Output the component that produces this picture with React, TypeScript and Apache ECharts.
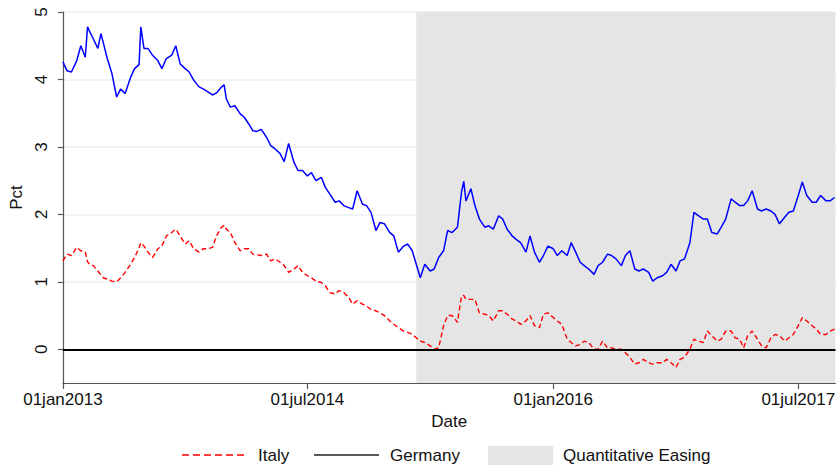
import React, { useEffect, useRef } from "react";
import * as echarts from "echarts";

// Observation dates (roughly every ten days, plus a few local spikes)
const dates = [
  "2013-01-01","2013-01-10","2013-01-20","2013-02-01","2013-02-10","2013-02-20","2013-02-25","2013-03-01","2013-03-10","2013-03-20","2013-03-27",
  "2013-04-01","2013-04-10","2013-04-20","2013-05-01","2013-05-10","2013-05-20","2013-06-01","2013-06-10","2013-06-20","2013-06-24",
  "2013-07-01","2013-07-10","2013-07-20","2013-08-01","2013-08-10","2013-08-20","2013-09-01","2013-09-10","2013-09-20",
  "2013-10-01","2013-10-10","2013-10-20","2013-11-01","2013-11-10","2013-11-20","2013-12-01","2013-12-10","2013-12-20","2013-12-27",
  "2014-01-01","2014-01-10","2014-01-20","2014-02-01","2014-02-10","2014-02-20","2014-03-01","2014-03-10","2014-03-20",
  "2014-04-01","2014-04-10","2014-04-20","2014-05-01","2014-05-10","2014-05-20","2014-06-01","2014-06-10","2014-06-20",
  "2014-07-01","2014-07-10","2014-07-20","2014-08-01","2014-08-10","2014-08-20","2014-09-01","2014-09-10","2014-09-20",
  "2014-10-01","2014-10-10","2014-10-20","2014-11-01","2014-11-10","2014-11-20","2014-12-01","2014-12-10","2014-12-20",
  "2015-01-01","2015-01-10","2015-01-20","2015-02-01","2015-02-10","2015-02-20","2015-03-01","2015-03-10","2015-03-20",
  "2015-04-01","2015-04-10","2015-04-20","2015-05-01","2015-05-10","2015-05-20","2015-06-01","2015-06-10","2015-06-15","2015-06-20",
  "2015-07-01","2015-07-10","2015-07-20","2015-08-01","2015-08-10","2015-08-20","2015-09-01","2015-09-10","2015-09-20",
  "2015-10-01","2015-10-10","2015-10-20","2015-11-01","2015-11-10","2015-11-20","2015-12-01","2015-12-10","2015-12-20",
  "2016-01-01","2016-01-10","2016-01-20","2016-02-01","2016-02-10","2016-02-20","2016-03-01","2016-03-10","2016-03-20",
  "2016-04-01","2016-04-10","2016-04-20","2016-05-01","2016-05-10","2016-05-20","2016-06-01","2016-06-10","2016-06-20",
  "2016-07-01","2016-07-10","2016-07-20","2016-08-01","2016-08-10","2016-08-20","2016-09-01","2016-09-10","2016-09-20",
  "2016-10-01","2016-10-10","2016-10-20","2016-11-01","2016-11-10","2016-11-20","2016-12-01","2016-12-10","2016-12-20",
  "2017-01-01","2017-01-10","2017-01-20","2017-02-01","2017-02-10","2017-02-20","2017-03-01","2017-03-10","2017-03-20",
  "2017-04-01","2017-04-10","2017-04-20","2017-05-01","2017-05-10","2017-05-20","2017-06-01","2017-06-10","2017-06-20",
  "2017-07-01","2017-07-10","2017-07-20","2017-08-01","2017-08-10","2017-08-20","2017-09-01","2017-09-10","2017-09-20",
];

// Italy (red, dashed), Pct
const italy = [
  1.31,1.41,1.39,1.51,1.46,1.44,1.30,1.26,1.24,1.16,1.10,
  1.06,1.04,1.01,1.00,1.06,1.14,1.26,1.36,1.50,1.58,
  1.53,1.44,1.36,1.49,1.53,1.68,1.73,1.78,1.68,
  1.56,1.61,1.49,1.44,1.49,1.49,1.51,1.68,1.80,1.84,
  1.78,1.73,1.58,1.46,1.49,1.49,1.41,1.40,1.39,
  1.41,1.31,1.34,1.29,1.24,1.14,1.19,1.24,1.14,
  1.09,1.06,1.01,0.99,0.94,0.84,0.82,0.87,0.84,
  0.77,0.67,0.72,0.67,0.64,0.59,0.57,0.54,0.50,
  0.42,0.37,0.32,0.27,0.25,0.22,0.17,0.12,0.10,
  0.05,0.00,0.02,0.35,0.50,0.50,0.40,0.79,0.80,0.74,
  0.74,0.74,0.54,0.52,0.50,0.42,0.57,0.57,0.52,
  0.45,0.42,0.37,0.42,0.50,0.35,0.32,0.52,0.54,
  0.47,0.42,0.37,0.15,0.10,0.05,0.07,0.12,0.10,
  0.00,0.00,0.12,0.02,0.02,0.00,0.00,-0.05,-0.12,
  -0.22,-0.20,-0.15,-0.20,-0.22,-0.20,-0.20,-0.15,-0.20,
  -0.27,-0.15,-0.12,0.00,0.15,0.12,0.10,0.27,0.20,
  0.12,0.15,0.27,0.27,0.17,0.15,0.02,0.20,0.27,
  0.15,0.05,0.02,0.17,0.22,0.20,0.12,0.17,0.22,
  0.35,0.47,0.42,0.35,0.30,0.22,0.22,0.27,0.30,
];

// Germany (blue), Pct
const germany = [
  4.26,4.13,4.11,4.28,4.50,4.33,4.78,4.72,4.60,4.46,4.68,
  4.55,4.31,4.10,3.74,3.86,3.79,4.03,4.16,4.22,4.78,
  4.46,4.46,4.36,4.28,4.16,4.31,4.36,4.50,4.23,
  4.16,4.11,3.99,3.89,3.86,3.82,3.77,3.80,3.88,3.92,
  3.71,3.59,3.61,3.49,3.44,3.34,3.24,3.23,3.26,
  3.14,3.02,2.97,2.90,2.78,3.05,2.77,2.65,2.65,
  2.57,2.62,2.50,2.55,2.40,2.30,2.18,2.20,2.13,
  2.10,2.08,2.35,2.15,2.13,2.03,1.76,1.88,1.86,
  1.73,1.68,1.44,1.53,1.56,1.46,1.26,1.06,1.26,
  1.16,1.19,1.36,1.46,1.76,1.73,1.81,2.33,2.49,2.20,
  2.38,2.13,1.93,1.81,1.83,1.78,1.98,1.93,1.78,
  1.68,1.63,1.58,1.44,1.68,1.44,1.29,1.39,1.53,
  1.49,1.39,1.46,1.39,1.58,1.44,1.29,1.24,1.19,
  1.11,1.24,1.29,1.41,1.39,1.34,1.24,1.39,1.46,
  1.19,1.16,1.19,1.14,1.01,1.06,1.09,1.14,1.26,
  1.16,1.31,1.34,1.58,2.03,1.98,1.93,1.93,1.73,
  1.71,1.81,1.93,2.23,2.18,2.13,2.13,2.20,2.35,
  2.08,2.05,2.08,2.05,2.00,1.86,1.96,2.03,2.05,
  2.28,2.48,2.28,2.18,2.18,2.28,2.20,2.20,2.25,
];

// Axis setup values
const xRange = ["2013-01-01", "2017-09-22"];
const xTickDates = ["2013-01-01", "2014-07-01", "2016-01-01", "2017-07-01"];
const xTickLabels = ["01jan2013", "01jul2014", "01jan2016", "01jul2017"];
const yTicks = [0, 1, 2, 3, 4, 5];
const yRange = [-0.5, 5];
const qePeriod = ["2015-03-01", "2017-09-22"];

const legendLabels = ["Italy", "Germany", "Quantitative Easing"];

const FONT = "'Liberation Sans', Arial, Helvetica, sans-serif";
const TEXT = "#111111";
const AXIS = "#555555";

function parseDay(s: string): number {
  const [y, m, d] = s.split("-").map(Number);
  return Date.UTC(y, m - 1, d);
}

export default function App() {
  const ref = useRef<HTMLDivElement>(null);

  useEffect(() => {
    if (!ref.current) return;
    const chart = echarts.init(ref.current, null, { renderer: "svg" });
    const xTickValues = xTickDates.map(parseDay);
    const italyData = dates.map((d, i) => [parseDay(d), italy[i]]);
    const germanyData = dates.map((d, i) => [parseDay(d), germany[i]]);

    const legendY = 455;
    const option: any = {
      animation: false,
      backgroundColor: "#ffffff",
      grid: { left: 60, right: 0, top: 12, bottom: 83, containLabel: false },
      xAxis: {
        type: "value",
        min: parseDay(xRange[0]),
        max: parseDay(xRange[1]),
        name: "Date",
        nameLocation: "middle",
        nameGap: 25,
        nameTextStyle: { fontFamily: FONT, fontSize: 17, color: TEXT },
        axisLine: { show: true, onZero: false, lineStyle: { color: AXIS, width: 1.2 } },
        axisTick: { show: true, customValues: xTickValues, length: 6, lineStyle: { color: AXIS, width: 1.2 } },
        axisLabel: {
          customValues: xTickValues,
          fontFamily: FONT,
          fontSize: 17,
          color: TEXT,
          margin: 8,
          hideOverlap: false,
          formatter: (v: number) => {
            let best = 0;
            for (let i = 1; i < xTickValues.length; i++) {
              if (Math.abs(xTickValues[i] - v) < Math.abs(xTickValues[best] - v)) best = i;
            }
            return xTickLabels[best];
          },
        },
        splitLine: { show: false },
      },
      yAxis: {
        type: "value",
        min: yRange[0],
        max: yRange[1],
        name: "Pct",
        nameLocation: "middle",
        nameGap: 37,
        nameTextStyle: { fontFamily: FONT, fontSize: 17, color: TEXT },
        axisLine: { show: true, lineStyle: { color: AXIS, width: 1.2 } },
        axisTick: { show: true, customValues: yTicks, length: 5, lineStyle: { color: AXIS, width: 1.2 } },
        axisLabel: {
          customValues: yTicks,
          rotate: 90,
          fontFamily: FONT,
          fontSize: 17,
          color: TEXT,
          margin: 13,
          formatter: (v: number) => String(v),
        },
        splitLine: { show: true, lineStyle: { color: "#eaf2f3", width: 1.5 } },
      },
      series: [
        {
          name: legendLabels[0],
          type: "line",
          data: italyData,
          symbol: "none",
          showSymbol: false,
          z: 3,
          lineStyle: { color: "#ff0000", width: 1.4, type: [5, 3] },
          markArea: {
            silent: true,
            itemStyle: { color: "#e5e5e5", opacity: 1 },
            data: [[{ xAxis: parseDay(qePeriod[0]) }, { xAxis: parseDay(qePeriod[1]) }]],
          },
        },
        {
          name: legendLabels[1],
          type: "line",
          data: germanyData,
          symbol: "none",
          showSymbol: false,
          z: 4,
          lineStyle: { color: "#0000ff", width: 1.5 },
          markLine: {
            silent: true,
            symbol: ["none", "none"],
            label: { show: false },
            lineStyle: { color: "#000000", width: 2, type: "solid" },
            data: [{ yAxis: 0 }],
          },
        },
      ],
      graphic: [
        {
          type: "line",
          shape: { x1: 182, y1: legendY, x2: 248, y2: legendY },
          style: { stroke: "#ff0000", lineWidth: 1.5, lineDash: [7, 4] },
        },
        {
          type: "text",
          x: 258,
          y: legendY,
          style: { text: legendLabels[0], font: `17px ${FONT}`, fill: TEXT, verticalAlign: "middle" },
        },
        {
          type: "line",
          shape: { x1: 314, y1: legendY, x2: 379, y2: legendY },
          style: { stroke: "#222222", lineWidth: 1.3 },
        },
        {
          type: "text",
          x: 390,
          y: legendY,
          style: { text: legendLabels[1], font: `17px ${FONT}`, fill: TEXT, verticalAlign: "middle" },
        },
        {
          type: "rect",
          shape: { x: 488, y: 446, width: 65, height: 19 },
          style: { fill: "#e5e5e5" },
        },
        {
          type: "text",
          x: 563,
          y: legendY,
          style: { text: legendLabels[2], font: `17px ${FONT}`, fill: TEXT, verticalAlign: "middle" },
        },
      ],
    };
    chart.setOption(option);
    return () => chart.dispose();
  }, []);

  return (
    <div
      ref={ref}
      style={{ position: "fixed", left: 0, top: 0, width: 838, height: 466, background: "#fff" }}
    />
  );
}
